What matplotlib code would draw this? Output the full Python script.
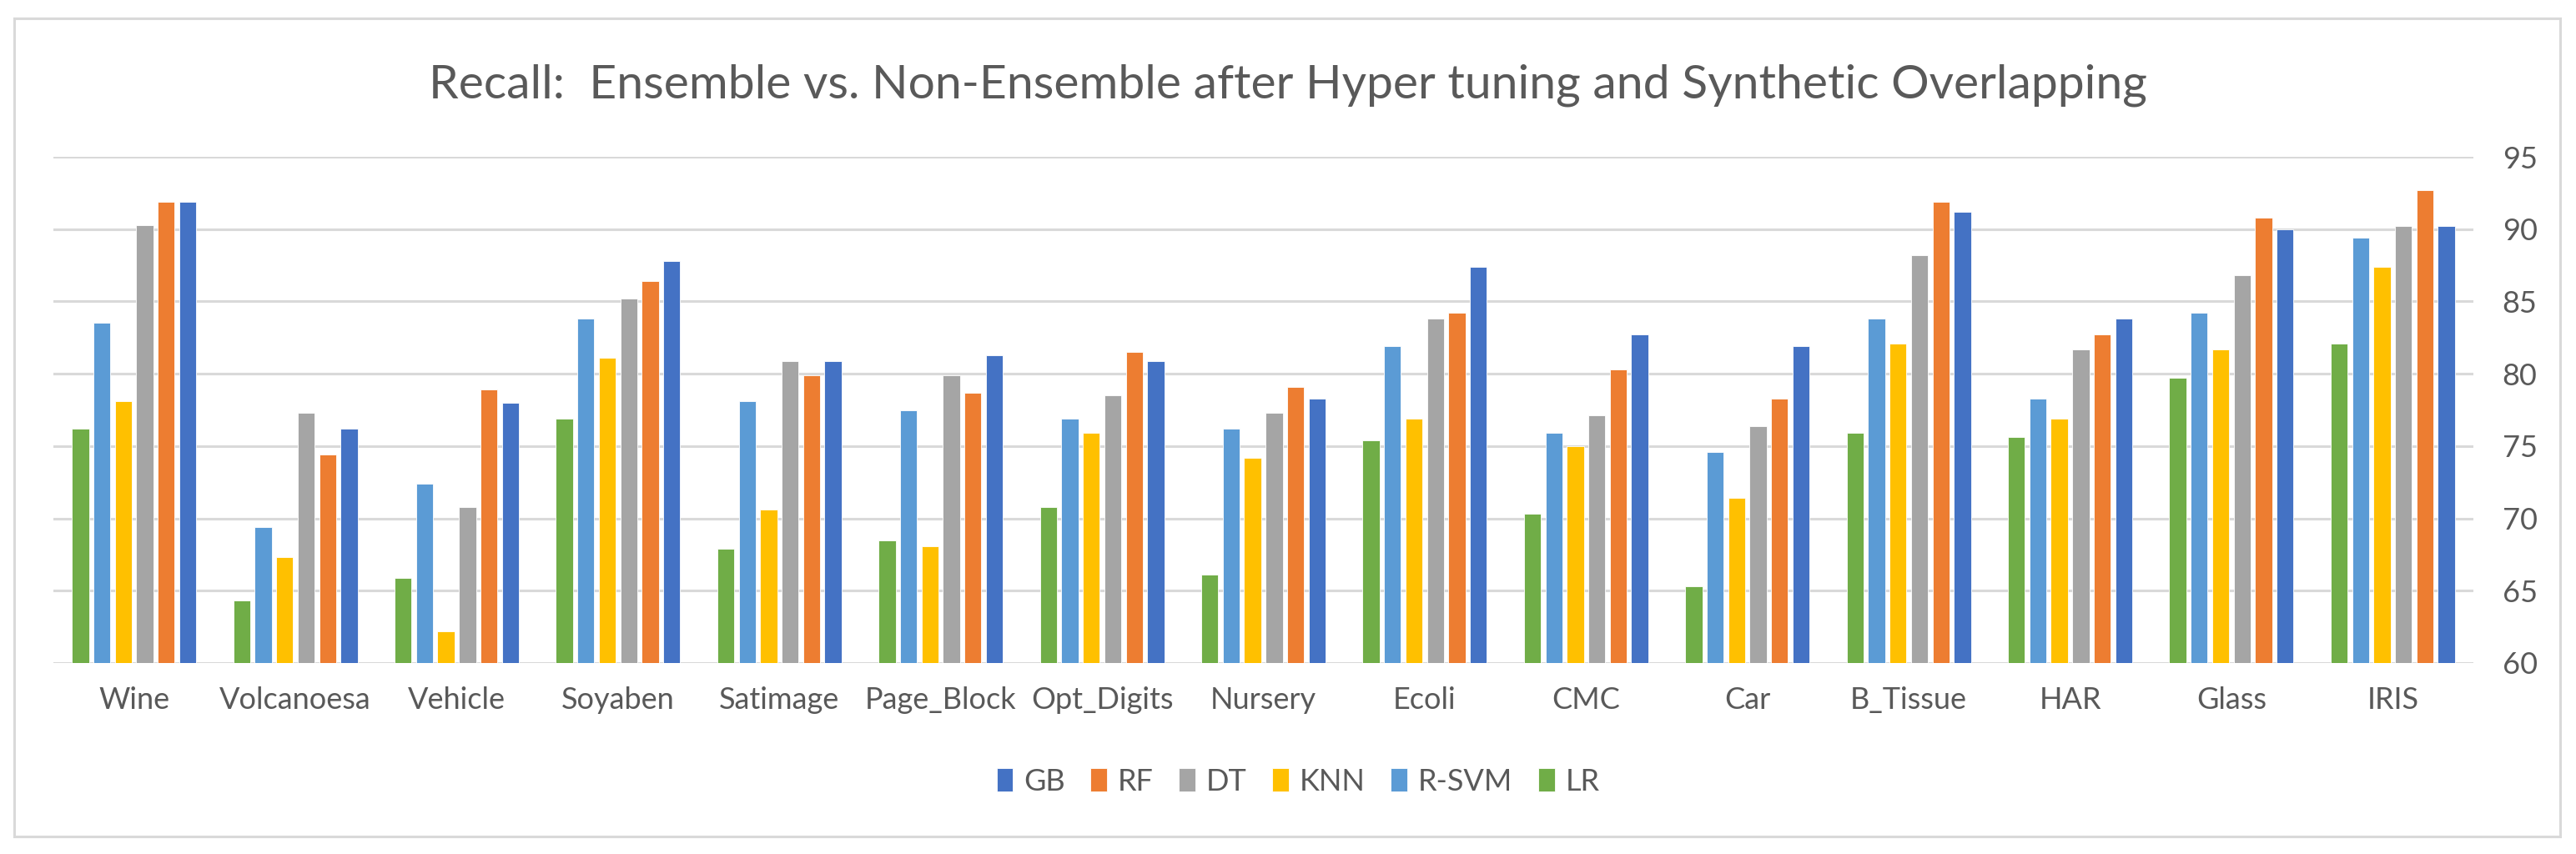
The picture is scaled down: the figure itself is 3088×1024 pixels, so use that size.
import matplotlib
matplotlib.use("Agg")
import matplotlib.pyplot as plt
import numpy as np
from matplotlib.patches import Rectangle

plt.rcParams["font.family"] = ["Lato", "DejaVu Sans"]

datasets = ["Wine", "Volcanoesa", "Vehicle", "Soyaben", "Satimage", "Page_Block",
            "Opt_Digits", "Nursery", "Ecoli", "CMC", "Car", "B_Tissue", "HAR",
            "Glass", "IRIS"]

# left-to-right order inside each group
lr = [76.2, 64.3, 65.9, 76.9, 67.9, 68.5, 70.8, 66.1, 75.4, 70.3, 65.3, 75.9, 75.6, 79.7, 82.1]
rsvm = [83.5, 69.4, 72.4, 83.8, 78.1, 77.5, 76.9, 76.2, 81.9, 75.9, 74.6, 83.8, 78.3, 84.2, 89.4]
knn = [78.1, 67.3, 62.2, 81.1, 70.6, 68.1, 75.9, 74.2, 76.9, 75.0, 71.4, 82.1, 76.9, 81.7, 87.4]
dt = [90.3, 77.3, 70.8, 85.2, 80.9, 79.9, 78.5, 77.3, 83.8, 77.1, 76.4, 88.2, 81.7, 86.8, 90.2]
rf = [91.9, 74.4, 78.9, 86.4, 79.9, 78.7, 81.5, 79.1, 84.2, 80.3, 78.3, 91.9, 82.7, 90.8, 92.7]
gb = [91.9, 76.2, 78.0, 87.8, 80.9, 81.3, 80.9, 78.3, 87.4, 82.7, 81.9, 91.2, 83.8, 90.0, 90.2]

series = [("LR", lr, "#70AD47"), ("R-SVM", rsvm, "#5B9BD5"), ("KNN", knn, "#FFC000"),
          ("DT", dt, "#A5A5A5"), ("RF", rf, "#ED7D31"), ("GB", gb, "#4472C4")]
legend_order = ["GB", "RF", "DT", "KNN", "R-SVM", "LR"]

text_col = "#595959"
grid_col = "#D9D9D9"

fig = plt.figure(figsize=(30.88, 10.24), dpi=100)
ax = fig.add_axes([64 / 3088, 1 - 795 / 1024, (2965 - 64) / 3088, (795 - 188) / 1024])

x = np.arange(len(datasets))
pitch = 0.133
width = 0.105
handles = {}
for i, (name, vals, col) in enumerate(series):
    off = (i - 2.5) * pitch
    b = ax.bar(x + off, np.array(vals) - 60, width, bottom=60, color=col,
               edgecolor="white", linewidth=0.6, zorder=3, label=name)
    handles[name] = b

ax.set_xlim(-0.5, len(datasets) - 0.5)
ax.set_ylim(60, 95)
ax.set_yticks(np.arange(60, 96, 5))
ax.yaxis.tick_right()
ax.grid(axis="y", color=grid_col, linewidth=2.2, zorder=0)
ax.set_axisbelow(True)
for s in ax.spines.values():
    s.set_visible(False)
ax.tick_params(axis="y", length=0, pad=25, labelsize=26, labelcolor=text_col)
ax.set_xticks(x)
ax.set_xticklabels(datasets)
ax.tick_params(axis="x", length=0, pad=20, labelsize=26, labelcolor=text_col)

fig.text(0.5, 1 - 118 / 1024, "Recall:  Ensemble vs. Non-Ensemble after Hyper tuning and Synthetic Overlapping",
         ha="center", va="baseline", fontsize=41, color=text_col)

leg = fig.legend([handles[n] for n in legend_order], legend_order, loc="center",
                 bbox_to_anchor=(1556 / 3088, 1 - 937 / 1024), ncol=6, frameon=False,
                 fontsize=26, handlelength=0.55, handleheight=0.85, handletextpad=0.35,
                 columnspacing=0.85, labelcolor=text_col)

fig.patches.append(Rectangle((17 / 3088, 1 - 1003 / 1024), (3069 - 17) / 3088, (1003 - 22) / 1024,
                             transform=fig.transFigure, fill=False, edgecolor=grid_col,
                             linewidth=2.2))

fig.savefig("out.png", dpi=100, facecolor="white")
